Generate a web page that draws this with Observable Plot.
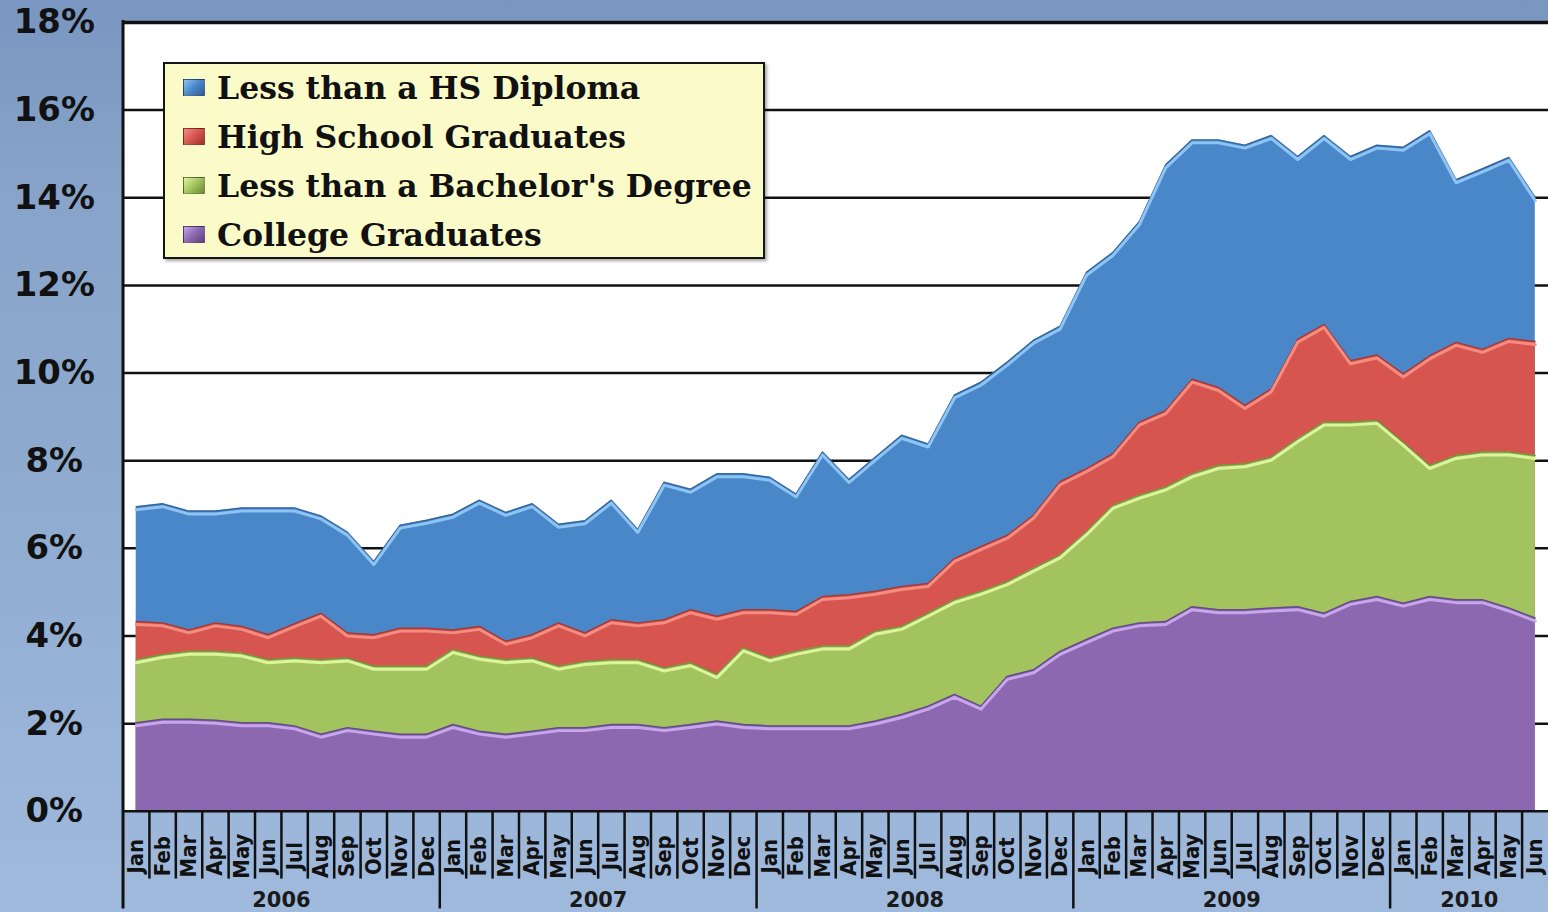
<!DOCTYPE html>
<html>
<head>
<meta charset="utf-8">
<script src="https://cdn.jsdelivr.net/npm/d3@7"></script>
<script src="https://cdn.jsdelivr.net/npm/@observablehq/plot@0.6"></script>
<style>
  html, body { margin: 0; padding: 0; }
  body {
    width: 1548px; height: 912px; overflow: hidden; position: relative;
    background: linear-gradient(180deg, #7896c0 0%, #87a3c9 20%, #8fabcf 55%, #9fbadd 100%);
  }
  #chart { position: absolute; left: 0; top: 0; }
  #legend {
    position: absolute; left: 163px; top: 62px; width: 598px; height: 193px;
    border: 2px solid #151515; background: #fbfbc9;
    box-shadow: 2px 2px 3px rgba(0,0,0,0.35);
    font-family: "DejaVu Serif", serif; font-weight: bold; font-size: 31.5px; color: #111;
  }
  .item { position: absolute; left: 18px; height: 49px; display: flex; align-items: center; white-space: nowrap; }
  .sw { width: 22px; height: 17px; margin-right: 12px; border: 1px solid rgba(0,0,0,0.35); box-sizing: border-box; }
</style>
</head>
<body>
<div id="chart"></div>
<div id="legend"></div>
<script>
// ---- data ----
const monthNames = ["Jan","Feb","Mar","Apr","May","Jun","Jul","Aug","Sep","Oct","Nov","Dec"];
const years = [2006, 2007, 2008, 2009, 2010];
const monthsPerYear = [12, 12, 12, 12, 6];
const yTicks = [0, 2, 4, 6, 8, 10, 12, 14, 16, 18];

const seriesNames = ["Less than a HS Diploma", "High School Graduates", "Less than a Bachelor's Degree", "College Graduates"];
const seriesColors = ["#4a87c9", "#d6554f", "#a2c35e", "#8b68b0"];
const highlightColors = ["#8cc4f4", "#f58c80", "#dcf59c", "#c7a6ec"];
const edgeColors = ["#2e5c95", "#9a3330", "#6d8a35", "#5d4380"];

const lessHS = [
  6.95, 7.02, 6.85, 6.85, 6.92, 6.92, 6.92, 6.74, 6.37, 5.70, 6.53, 6.64,
  6.78, 7.10, 6.82, 7.02, 6.55, 6.63, 7.10, 6.43, 7.51, 7.35, 7.70, 7.70,
  7.62, 7.24, 8.20, 7.57, 8.08, 8.58, 8.38, 9.50, 9.79, 10.25, 10.75, 11.07,
  12.30, 12.75, 13.45, 14.75, 15.32, 15.32, 15.20, 15.42, 14.94, 15.42, 14.94, 15.20,
  15.15, 15.53, 14.41, 14.66, 14.92, 14.00
];
const hsGrad = [
  4.33, 4.30, 4.14, 4.30, 4.22, 4.03, 4.28, 4.52, 4.07, 4.03, 4.18, 4.18,
  4.14, 4.22, 3.88, 4.03, 4.30, 4.07, 4.37, 4.30, 4.37, 4.60, 4.45, 4.60,
  4.60, 4.56, 4.90, 4.94, 5.02, 5.13, 5.20, 5.77, 6.04, 6.30, 6.76, 7.52,
  7.82, 8.16, 8.88, 9.14, 9.86, 9.67, 9.26, 9.64, 10.77, 11.11, 10.28, 10.41,
  9.98, 10.39, 10.70, 10.54, 10.79, 10.72
];
const someCollege = [
  3.46, 3.58, 3.65, 3.65, 3.61, 3.46, 3.50, 3.46, 3.50, 3.31, 3.31, 3.31,
  3.69, 3.54, 3.46, 3.50, 3.31, 3.42, 3.46, 3.46, 3.27, 3.39, 3.12, 3.73,
  3.50, 3.65, 3.77, 3.77, 4.11, 4.22, 4.52, 4.83, 5.02, 5.24, 5.55, 5.85,
  6.38, 6.98, 7.21, 7.40, 7.70, 7.89, 7.93, 8.08, 8.50, 8.88, 8.88, 8.92,
  8.42, 7.89, 8.12, 8.20, 8.20, 8.12
];
const college = [
  2.02, 2.10, 2.10, 2.08, 2.02, 2.02, 1.95, 1.76, 1.91, 1.83, 1.76, 1.76,
  1.98, 1.83, 1.76, 1.83, 1.91, 1.91, 1.98, 1.98, 1.91, 1.98, 2.06, 1.98,
  1.95, 1.95, 1.95, 1.95, 2.06, 2.21, 2.40, 2.67, 2.40, 3.08, 3.23, 3.65,
  3.92, 4.18, 4.30, 4.33, 4.67, 4.60, 4.60, 4.64, 4.67, 4.52, 4.79, 4.90,
  4.75, 4.90, 4.83, 4.83, 4.64, 4.41
];
const seriesValues = [lessHS, hsGrad, someCollege, college];

// ---- derived tables ----
const monthLabels = [];
const yearInfo = [];
let idx = 0;
years.forEach((yr, k) => {
  const start = idx;
  for (let m = 0; m < monthsPerYear[k]; m++) monthLabels.push({i: idx++, m: monthNames[m]});
  yearInfo.push({year: String(yr), center: start + (monthsPerYear[k] - 1) / 2, start});
});
const N = monthLabels.length;
const monthSeps = d3.range(1, N).map(i => i - 0.5).filter(s => !yearInfo.some(y => y.start - 0.5 === s));
const yearSeps = yearInfo.slice(1).map(y => y.start - 0.5);

const tables = seriesValues.map(vals => vals.map((v, i) => ({i, v})));

const marks = [
  Plot.frame({fill: "white", stroke: null}),
  Plot.ruleY(yTicks.filter(t => t > 0 && t < 18), {stroke: "#111", strokeWidth: 2.5}),
];
tables.forEach((t, k) => {
  marks.push(Plot.areaY(t, {x: "i", y: "v", fill: seriesColors[k]}));
  marks.push(Plot.lineY(t, {x: "i", y: "v", stroke: edgeColors[k], strokeWidth: 1.5, strokeOpacity: 0.8}));
  marks.push(Plot.lineY(t, {x: "i", y: "v", stroke: highlightColors[k], strokeWidth: 3, dy: 3}));
});
marks.push(
  Plot.ruleY([18], {stroke: "#111", strokeWidth: 3.5}),
  Plot.ruleY([0], {stroke: "#111", strokeWidth: 2.5}),
  Plot.ruleX([-0.5], {stroke: "#111", strokeWidth: 3, insetTop: -2, insetBottom: -98}),
  Plot.ruleX(monthSeps, {stroke: "#111", strokeWidth: 2.5, insetTop: 792, insetBottom: -68}),
  Plot.ruleX(yearSeps, {stroke: "#111", strokeWidth: 2.5, insetTop: 792, insetBottom: -98}),
  Plot.text(monthLabels, {x: "i", text: "m", frameAnchor: "bottom", dy: 45, rotate: -90,
    textAnchor: "middle", lineAnchor: "middle",
    fontSize: 22, fontWeight: "bold", fontFamily: "DejaVu Sans Condensed, DejaVu Sans", fill: "#111"}),
  Plot.text(yearInfo, {x: "center", text: "year", frameAnchor: "bottom", dy: 89,
    textAnchor: "middle", lineAnchor: "middle",
    fontSize: 21, fontWeight: "bold", fontFamily: "DejaVu Sans", fill: "#1a1a1a"}),
  Plot.text(yTicks, {y: d => d, text: d => d + "%", frameAnchor: "left", dx: -69, textAnchor: "middle",
    lineAnchor: "middle",
    fontSize: 34, fontWeight: "bold", fontFamily: "DejaVu Sans", fill: "#111"})
);

const chart = Plot.plot({
  width: 1554, height: 912,
  marginLeft: 123, marginRight: 0, marginTop: 22, marginBottom: 98,
  x: {type: "linear", domain: [-0.5, N - 0.5], axis: null},
  y: {domain: [0, 18], axis: null},
  style: {background: "transparent", overflow: "visible"},
  marks
});
document.getElementById("chart").appendChild(chart);

// ---- legend ----
const legend = document.getElementById("legend");
seriesNames.forEach((name, k) => {
  const it = document.createElement("div");
  it.className = "item";
  it.style.top = (-1 + 49 * k) + "px";
  const sw = document.createElement("div");
  sw.className = "sw";
  sw.style.background = `linear-gradient(135deg, ${highlightColors[k]} 0%, ${seriesColors[k]} 50%, ${edgeColors[k]} 100%)`;
  const tx = document.createElement("span");
  tx.textContent = name;
  it.appendChild(sw); it.appendChild(tx);
  legend.appendChild(it);
});
</script>
</body>
</html>
